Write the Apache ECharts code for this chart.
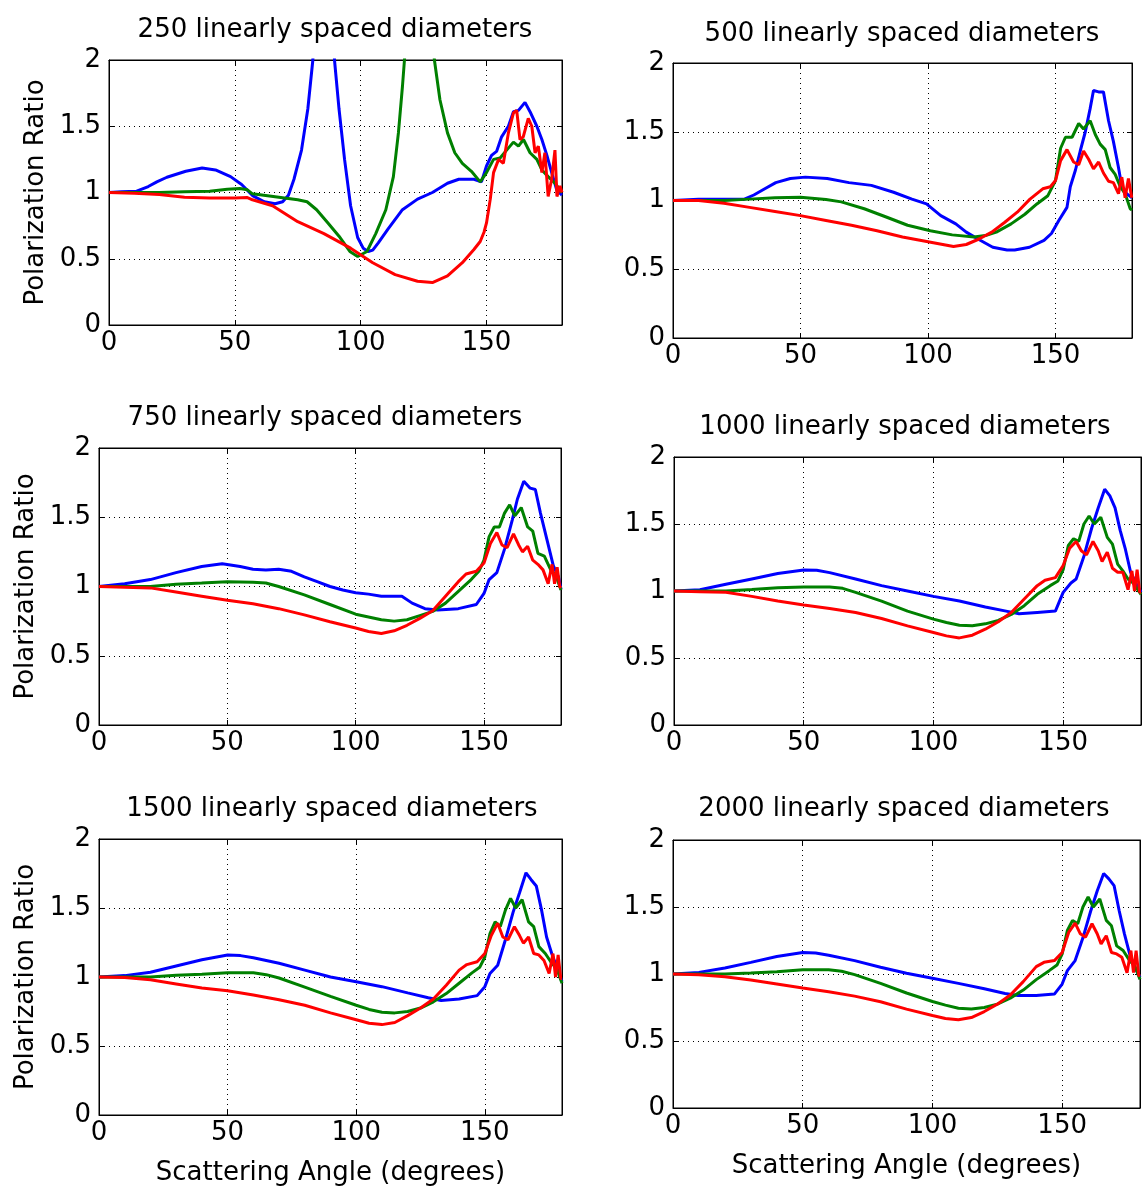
<!DOCTYPE html>
<html><head><meta charset="utf-8">
<script src="https://cdn.jsdelivr.net/npm/echarts@6/dist/echarts.min.js"></script>
<style>html,body{margin:0;padding:0;background:#fff}#c{width:1146px;height:1188px}</style>
</head><body><div id="c"></div>
<script>
// ---------- DATA ----------
const titles = ['250 linearly spaced diameters','500 linearly spaced diameters','750 linearly spaced diameters','1000 linearly spaced diameters','1500 linearly spaced diameters','2000 linearly spaced diameters'];
const yAxisName = 'Polarization Ratio';
const xAxisName = 'Scattering Angle (degrees)';
const xTickValues = [0,50,100,150];
const yTickValues = [0,0.5,1,1.5,2];

// each point: [scattering angle (deg), polarization ratio]
const blue250 = [[0,1.0],[5,1.005],[11,1.01],[15.6,1.045],[19,1.08],[23,1.115],[30.5,1.16],[37,1.185],[42.3,1.17],[48.3,1.12],[52.7,1.06],[57.2,0.975],[61.7,0.93],[66,0.915],[69,0.93],[71.3,0.98],[73.5,1.10],[76.5,1.32],[79,1.63],[81,2.0],[83,2.7],[85,3.4],[87,3.3],[88.5,2.6],[89.6,2.0],[91.4,1.63],[93.6,1.25],[96,0.9],[98.8,0.66],[101,0.58],[103,0.555],[104.8,0.565],[107,0.62],[110.7,0.72],[116.6,0.87],[122.6,0.95],[128.5,1.0],[134.5,1.07],[139,1.10],[145,1.10],[148,1.08],[150,1.2],[152,1.28],[154,1.31],[156,1.42],[158.7,1.5],[160.7,1.61],[162.7,1.62],[165.3,1.68],[167.3,1.61],[170,1.5],[172,1.4],[174,1.28],[175.9,1.15],[177.9,1.02],[180,0.98]];
const green250 = [[0,1.0],[10,1.0],[20,1.0],[30,1.005],[40,1.01],[47,1.025],[52,1.03],[55,1.02],[57,0.99],[63,0.975],[69,0.96],[75,0.945],[78.7,0.93],[82.5,0.87],[87,0.77],[91.4,0.67],[95.7,0.555],[98.8,0.517],[102.5,0.555],[106,0.69],[110,0.87],[113,1.12],[115,1.45],[116.6,1.8],[117.4,2.0],[120,2.7],[123,3.1],[126,2.8],[129.3,2.0],[131.5,1.70],[134.5,1.45],[137.4,1.30],[140.4,1.22],[144,1.16],[147.5,1.08],[150,1.15],[152.8,1.25],[155.4,1.26],[158,1.32],[160.7,1.38],[162.7,1.35],[164.7,1.4],[167.3,1.3],[170,1.25],[172,1.17],[174.5,1.12],[177.2,1.07],[180,1.0]];
const red250 = [[0,1.0],[10,0.995],[20,0.985],[30,0.965],[40,0.958],[50,0.958],[55,0.962],[57,0.945],[65,0.9],[75,0.78],[85.4,0.69],[96,0.58],[104.8,0.47],[113.7,0.38],[122.6,0.33],[128.5,0.32],[134.5,0.37],[140.4,0.47],[145,0.57],[147.5,0.63],[149,0.7],[150,0.77],[151.5,0.95],[152.8,1.15],[154.8,1.25],[156.7,1.22],[158.7,1.45],[160.7,1.6],[162,1.62],[163.3,1.4],[164.6,1.42],[166.6,1.56],[168,1.5],[169.3,1.3],[170.6,1.35],[172,1.15],[173.2,1.3],[174.5,0.97],[175.9,1.1],[177.2,1.32],[178,0.97],[179.2,1.05],[180,1.0]];

const blue500 = [[0,1.0],[10,1.01],[20,1.01],[28,1.01],[31.7,1.04],[36,1.085],[40.3,1.13],[46,1.16],[51.9,1.17],[60.5,1.16],[69,1.13],[77.8,1.11],[86.5,1.06],[93.7,1.01],[99.4,0.975],[105,0.89],[110.9,0.83],[115,0.77],[119.6,0.72],[125.4,0.66],[131,0.64],[134,0.64],[139.8,0.66],[145.5,0.71],[148.4,0.76],[151.3,0.855],[154.5,0.95],[155.8,1.1],[157.8,1.22],[159.7,1.36],[161.7,1.5],[163.6,1.67],[164.9,1.80],[166.9,1.79],[168.8,1.79],[170.8,1.58],[172.7,1.43],[174.7,1.24],[176,1.10],[177.9,1.05],[180,1.02]];
const green500 = [[0,1.0],[20,1.0],[30,1.01],[40,1.02],[50,1.024],[60,1.007],[66,0.99],[75,0.94],[83.6,0.88],[92,0.82],[100.9,0.78],[109.5,0.75],[118,0.735],[122.5,0.745],[126.8,0.77],[132.6,0.83],[138,0.9],[142.7,0.975],[147,1.035],[150,1.145],[152,1.38],[153.9,1.46],[156.5,1.46],[159.1,1.56],[161,1.52],[163.6,1.58],[165.6,1.48],[167.5,1.41],[169.5,1.37],[171.4,1.24],[173.4,1.19],[175.4,1.10],[177.3,1.05],[179.3,0.94],[180,0.93]];
const red500 = [[0,1.0],[10,1.0],[20,0.98],[30,0.95],[40,0.92],[50,0.89],[60,0.855],[70,0.82],[80,0.78],[90,0.735],[100,0.70],[110,0.665],[115,0.68],[120,0.72],[125,0.77],[130,0.84],[135,0.915],[140,1.01],[145,1.085],[148,1.1],[150,1.145],[152,1.29],[154.5,1.37],[157.1,1.28],[159.1,1.26],[161,1.36],[163,1.30],[164.9,1.23],[166.9,1.28],[168.8,1.20],[170.8,1.14],[172.7,1.13],[174.7,1.05],[176,1.17],[177.3,1.02],[178.6,1.16],[179.9,1.02]];

const blue750 = [[0,1.0],[10,1.02],[20,1.05],[30,1.10],[40,1.145],[48,1.165],[55,1.145],[60,1.125],[65,1.12],[70,1.125],[75,1.11],[80,1.07],[85,1.035],[90,1.0],[95,0.975],[100,0.955],[105,0.945],[110,0.93],[118,0.93],[122,0.88],[127,0.84],[132,0.83],[140,0.84],[147,0.87],[150,0.95],[152,1.05],[155,1.10],[158,1.27],[161,1.48],[163,1.63],[165.5,1.76],[168,1.71],[170,1.70],[172,1.53],[174.5,1.34],[177,1.15],[179,1.07],[180,0.98]];
const green750 = [[0,1.0],[10,1.0],[20,1.0],[30,1.017],[40,1.025],[50,1.035],[60,1.03],[65,1.025],[70,1.0],[80,0.94],[90,0.87],[100,0.80],[105,0.78],[110,0.76],[115,0.75],[120,0.76],[125,0.79],[130,0.82],[135,0.88],[140,0.965],[145,1.05],[148,1.11],[150,1.19],[152,1.36],[154,1.43],[156,1.43],[158,1.53],[160,1.59],[162,1.51],[164.5,1.57],[167,1.43],[169,1.40],[171,1.24],[173.5,1.22],[176,1.12],[178,1.08],[180,0.975]];
const red750 = [[0,1.0],[10,0.995],[20,0.99],[30,0.96],[40,0.93],[50,0.90],[60,0.875],[70,0.84],[80,0.795],[90,0.745],[100,0.70],[105,0.675],[110,0.66],[115,0.68],[120,0.72],[125,0.77],[130,0.825],[135,0.93],[140,1.035],[143,1.09],[147,1.11],[150,1.17],[152.5,1.31],[155,1.39],[157,1.30],[159,1.28],[161.5,1.38],[163.5,1.30],[165,1.25],[167,1.29],[169,1.19],[171,1.16],[173,1.12],[175,1.02],[176.5,1.16],[177.5,1.02],[178.5,1.14],[179.5,1.0],[180,0.99]];

const blue1000 = [[0,1.0],[10,1.01],[20,1.05],[30,1.09],[40,1.13],[50,1.157],[55,1.155],[60,1.137],[70,1.09],[80,1.04],[90,1.0],[100,0.96],[110,0.925],[120,0.88],[128,0.85],[133,0.83],[140,0.84],[147,0.85],[150,0.99],[153,1.06],[155,1.09],[158,1.26],[161,1.47],[163.5,1.62],[166,1.76],[168,1.71],[170,1.62],[172,1.45],[174,1.31],[176,1.14],[178,1.06],[180,0.99]];
const green1000 = [[0,1.0],[10,1.0],[20,1.0],[30,1.012],[40,1.025],[50,1.03],[60,1.03],[65,1.02],[70,0.99],[80,0.925],[90,0.85],[100,0.79],[105,0.765],[110,0.745],[115,0.74],[120,0.755],[125,0.78],[130,0.825],[135,0.89],[140,0.975],[145,1.04],[148,1.075],[150,1.16],[152,1.34],[154,1.39],[156,1.37],[158,1.50],[160,1.56],[162,1.50],[164.5,1.55],[167,1.40],[169,1.35],[171,1.20],[173,1.15],[175,1.09],[177,1.06],[180,0.975]];
const red1000 = [[0,1.0],[10,0.995],[20,0.99],[30,0.96],[40,0.925],[50,0.895],[60,0.87],[70,0.84],[80,0.795],[90,0.74],[100,0.69],[105,0.665],[110,0.65],[115,0.67],[120,0.715],[125,0.77],[130,0.84],[135,0.94],[140,1.04],[143,1.08],[147,1.10],[150,1.19],[152.5,1.32],[155,1.37],[157,1.30],[159,1.27],[161.5,1.37],[163.5,1.30],[165,1.22],[167,1.29],[169,1.17],[171,1.14],[173,1.14],[175,1.01],[176.5,1.15],[177.5,1.0],[178.5,1.16],[179.5,0.99],[180,0.99]];

const blue1500 = [[0,1.0],[10,1.01],[20,1.035],[30,1.08],[40,1.125],[50,1.16],[55,1.155],[60,1.14],[70,1.10],[80,1.05],[90,1.0],[100,0.965],[110,0.93],[120,0.885],[128,0.85],[133,0.83],[140,0.84],[147,0.865],[150,0.93],[152,1.025],[155,1.085],[158,1.27],[161,1.47],[163.5,1.61],[166,1.755],[168,1.705],[170,1.66],[172,1.49],[174,1.29],[176,1.17],[178,1.07],[180,0.965]];
const green1500 = [[0,1.0],[20,1.0],[30,1.012],[40,1.02],[50,1.03],[60,1.03],[65,1.017],[70,0.993],[80,0.927],[90,0.86],[100,0.795],[105,0.765],[110,0.745],[115,0.74],[120,0.75],[125,0.775],[130,0.82],[135,0.88],[140,0.955],[145,1.03],[148,1.07],[150,1.145],[152,1.315],[154,1.40],[156,1.365],[158,1.485],[160,1.57],[162,1.50],[164.5,1.56],[167,1.40],[169,1.365],[171,1.22],[173.5,1.17],[176,1.10],[178,1.06],[180,0.955]];
const red1500 = [[0,1.0],[10,0.997],[20,0.98],[30,0.95],[40,0.92],[50,0.9],[60,0.87],[70,0.835],[80,0.795],[90,0.74],[100,0.69],[105,0.665],[110,0.655],[115,0.67],[120,0.72],[125,0.775],[130,0.84],[135,0.94],[140,1.05],[143,1.09],[147,1.11],[150,1.17],[152.5,1.30],[155,1.39],[157,1.29],[159,1.27],[161.5,1.365],[163.5,1.30],[165,1.245],[167,1.29],[169,1.17],[171,1.16],[173,1.12],[175,1.025],[176.5,1.17],[177.5,1.0],[178.5,1.16],[179.5,0.99],[180,0.99]];

const blue2000 = [[0,1.0],[10,1.012],[20,1.045],[30,1.087],[40,1.13],[50,1.16],[55,1.157],[60,1.14],[70,1.10],[80,1.05],[90,1.005],[100,0.968],[110,0.93],[120,0.89],[128,0.855],[133,0.84],[140,0.84],[147,0.85],[150,0.925],[152,1.025],[155,1.10],[158,1.27],[161,1.47],[163.5,1.62],[166,1.75],[168,1.71],[170,1.66],[172,1.47],[174,1.30],[176,1.15],[178,1.05],[180,0.975]];
const green2000 = [[0,1.0],[20,1.0],[30,1.007],[40,1.017],[50,1.032],[60,1.032],[65,1.02],[70,0.995],[80,0.93],[90,0.858],[100,0.795],[105,0.768],[110,0.745],[115,0.738],[120,0.75],[125,0.775],[130,0.82],[135,0.88],[140,0.958],[145,1.025],[148,1.067],[150,1.15],[152,1.325],[154,1.40],[156,1.375],[158,1.50],[160,1.575],[162,1.50],[164.5,1.56],[167,1.40],[169,1.36],[171,1.21],[173.5,1.175],[176,1.10],[178,1.06],[180,0.96]];
const red2000 = [[0,1.0],[10,0.995],[20,0.98],[30,0.955],[40,0.925],[50,0.895],[60,0.868],[70,0.835],[80,0.793],[90,0.738],[100,0.69],[105,0.668],[110,0.658],[115,0.675],[120,0.72],[125,0.775],[130,0.843],[135,0.943],[140,1.055],[143,1.087],[147,1.10],[150,1.16],[152.5,1.31],[155,1.38],[157,1.30],[159,1.275],[161.5,1.375],[163.5,1.30],[165,1.225],[167,1.285],[169,1.16],[171,1.15],[173,1.125],[175,1.01],[176.5,1.175],[177.5,1.01],[178.5,1.175],[179.5,0.99],[180,0.985]];

const panelSeries = [
  [blue250, green250, red250],
  [blue500, green500, red500],
  [blue750, green750, red750],
  [blue1000, green1000, red1000],
  [blue1500, green1500, red1500],
  [blue2000, green2000, red2000]
];

// ---------- LAYOUT / STYLE ----------
const F = 'DejaVu Sans';
const colors = ['#0000ff', '#008000', '#ff0000'];
const layout = [
  {l:109, t:60,  w:453, h:265, tx:335, ty:28,  yName:true,  xName:false},
  {l:673, t:63,  w:459, h:275, tx:902, ty:32,  yName:false, xName:false},
  {l:99,  t:448, w:462, h:277, tx:325, ty:416, yName:true,  xName:false},
  {l:674, t:457, w:467, h:268, tx:905, ty:425, yName:false, xName:false},
  {l:99,  t:839, w:463, h:276, tx:332, ty:807, yName:true,  xName:true},
  {l:673, t:840, w:467, h:268, tx:904, ty:807, yName:false, xName:true}
];

const option = {animation:false, backgroundColor:'#fff', title:[], grid:[], xAxis:[], yAxis:[], series:[]};
const axisLineStyle = {color:'#000', width:1};
const dotted = {color:'#000', width:1, type:[1,4]};
const labelStyle = {color:'#000', fontFamily:F, fontSize:26};
const nameStyle = {color:'#000', fontFamily:F, fontSize:26};

layout.forEach((L, i) => {
  option.title.push({text:titles[i], left:L.tx, top:L.ty - 11, textAlign:'center', padding:0,
    textStyle:{fontFamily:F, fontSize:26, fontWeight:'normal', color:'#000'}});
  option.grid.push({left:L.l, top:L.t, width:L.w, height:L.h, show:true, borderColor:'#000', borderWidth:1, backgroundColor:'transparent'});
  const xi = option.xAxis.length;
  option.xAxis.push({gridIndex:i, type:'value', min:xTickValues[0], max:180, interval:50, position:'bottom',
    axisLine:{show:true, onZero:false, lineStyle:axisLineStyle},
    axisTick:{show:true, inside:true, length:5, lineStyle:axisLineStyle},
    axisLabel:{...labelStyle, margin:5, showMaxLabel:false},
    splitLine:{show:true, lineStyle:dotted},
    name: L.xName ? xAxisName : '', nameLocation:'middle', nameGap:45, nameTextStyle:nameStyle});
  option.xAxis.push({gridIndex:i, type:'value', min:0, max:180, interval:50, position:'top',
    axisLine:{show:true, onZero:false, lineStyle:axisLineStyle},
    axisTick:{show:true, inside:true, length:5, lineStyle:axisLineStyle},
    axisLabel:{show:false}, splitLine:{show:false}});
  const yi = option.yAxis.length;
  option.yAxis.push({gridIndex:i, type:'value', min:yTickValues[0], max:yTickValues[yTickValues.length-1], interval:0.5, position:'left',
    axisLine:{show:true, onZero:false, lineStyle:axisLineStyle},
    axisTick:{show:true, inside:true, length:5, lineStyle:axisLineStyle},
    axisLabel:{...labelStyle, margin:8},
    splitLine:{show:true, lineStyle:dotted},
    name: L.yName ? yAxisName : '', nameLocation:'middle', nameGap:60, nameTextStyle:nameStyle});
  option.yAxis.push({gridIndex:i, type:'value', min:0, max:2, interval:0.5, position:'right',
    axisLine:{show:true, onZero:false, lineStyle:axisLineStyle},
    axisTick:{show:true, inside:true, length:5, lineStyle:axisLineStyle},
    axisLabel:{show:false}, splitLine:{show:false}});
  panelSeries[i].forEach((d, k) => {
    option.series.push({type:'line', xAxisIndex:xi, yAxisIndex:yi, data:d, showSymbol:false, symbol:'none',
      clip:true, smooth:false, lineStyle:{color:colors[k], width:3}, itemStyle:{color:colors[k]}, z:2+k});
  });
});

const chart = echarts.init(document.getElementById('c'), null, {renderer:'canvas'});
chart.setOption(option);
</script></body></html>
